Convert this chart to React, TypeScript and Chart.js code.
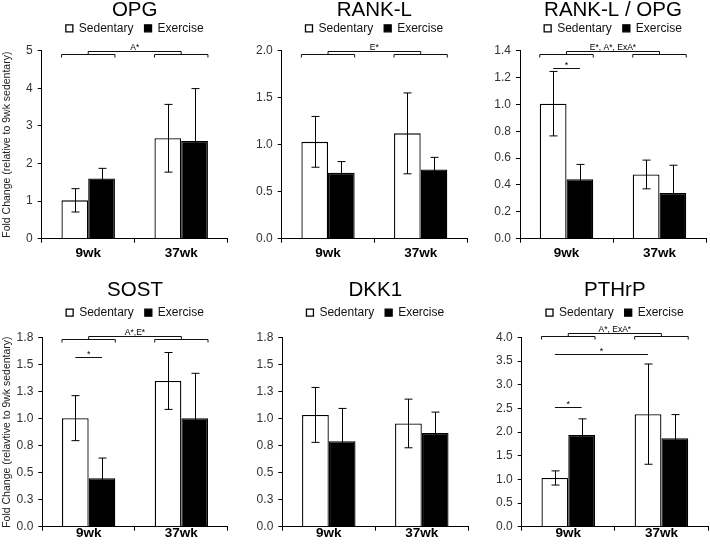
import React, { useEffect, useRef } from "react";
import { Chart, registerables } from "chart.js";

Chart.register(...registerables);
Chart.defaults.font.family = "'Liberation Sans', Arial, sans-serif";

// ---------- data ----------
const categories = ["9wk", "37wk"];
const seriesNames = ["Sedentary", "Exercise"];

const opgSed = [1.02, 2.67];
const opgSedErr = [0.31, 0.9];
const opgEx = [1.6, 2.6];
const opgExErr = [0.27, 1.39];
const opgTicks = ["0", "1", "2", "3", "4", "5"];

const ranklSed = [1.03, 1.12];
const ranklSedErr = [0.27, 0.43];
const ranklEx = [0.7, 0.735];
const ranklExErr = [0.12, 0.13];
const ranklTicks = ["0.0", "0.5", "1.0", "1.5", "2.0"];

const ratioSed = [1.005, 0.478];
const ratioSedErr = [0.24, 0.107];
const ratioEx = [0.443, 0.341];
const ratioExErr = [0.11, 0.206];
const ratioTicks = ["0.0", "0.2", "0.4", "0.6", "0.8", "1.0", "1.2", "1.4"];

const sostSed = [1.004, 1.348];
const sostSedErr = [0.208, 0.263];
const sostEx = [0.449, 1.004];
const sostExErr = [0.186, 0.415];
const sostTicks = ["0.0", "0.3", "0.5", "0.8", "1.0", "1.3", "1.5", "1.8"];

const dkkSed = [1.034, 0.955];
const dkkSedErr = [0.254, 0.225];
const dkkEx = [0.79, 0.867];
const dkkExErr = [0.304, 0.193];
const dkkTicks = ["0.0", "0.3", "0.5", "0.8", "1.0", "1.3", "1.5", "1.8"];

const pthSed = [1.03, 2.38];
const pthSedErr = [0.15, 1.06];
const pthEx = [1.94, 1.87];
const pthExErr = [0.34, 0.5];
const pthTicks = ["0.0", "0.5", "1.0", "1.5", "2.0", "2.5", "3.0", "3.5", "4.0"];

const yTitleTop = "Fold Change (relative to 9wk sedentary)";
const yTitleBottom = "Fold Change (relavtive to 9wk sedentary)";

// star lines: [datasetA, catA, datasetB, catB, value]
const ratioStars = [[0, 0, 1, 0, 1.273]];
const sostStars = [[0, 0, 1, 0, 1.57]];
const pthStars = [
  [0, 0, 1, 0, 2.53],
  [0, 0, 0, 1, 3.65],
];

// ---------- panels ----------
const FONT = "'Liberation Sans', Arial, sans-serif";

const rows = [
  { top: 0, h: 270, tPadTop: -0.25, tPadBot: -8.95, spacer: 6.3, xH: 31.3, xPad: 2.2 },
  { top: 270, h: 277, tPadTop: 10.05, tPadBot: -4.85, spacer: 8.8, xH: 20.3, xPad: -5.8 },
];

const panels = [
  { row: 0, left: 0, w: 237, yw: 41.7, padR: 9.3, title: "OPG", sed: opgSed, sedErr: opgSedErr, ex: opgEx, exErr: opgExErr, ticks: opgTicks, max: 5, step: 1, yTitle: yTitleTop, bracket: "A*", brk: 0.3, stars: [] },
  { row: 0, left: 237, w: 233, yw: 44.7, padR: 3, title: "RANK-L", sed: ranklSed, sedErr: ranklSedErr, ex: ranklEx, exErr: ranklExErr, ticks: ranklTicks, max: 2, step: 0.5, yTitle: null, bracket: "E*", brk: 0.3, stars: [] },
  { row: 0, left: 470, w: 240, yw: 50, padR: 4, title: "RANK-L / OPG", sed: ratioSed, sedErr: ratioSedErr, ex: ratioEx, exErr: ratioExErr, ticks: ratioTicks, max: 1.4, step: 0.2, yTitle: null, bracket: "E*, A*, ExA*", brk: 0.3, stars: ratioStars },
  { row: 1, left: 0, w: 237, yw: 42.3, padR: 9.3, title: "SOST", sed: sostSed, sedErr: sostSedErr, ex: sostEx, exErr: sostExErr, ticks: sostTicks, max: 1.75, step: 0.25, yTitle: yTitleBottom, bracket: "A*,E*", brk: -2, stars: sostStars },
  { row: 1, left: 237, w: 233, yw: 45.3, padR: 1.7, title: "DKK1", sed: dkkSed, sedErr: dkkSedErr, ex: dkkEx, exErr: dkkExErr, ticks: dkkTicks, max: 1.75, step: 0.25, yTitle: null, bracket: null, brk: 0, stars: [] },
  { row: 1, left: 470, w: 240, yw: 51.7, padR: 2, title: "PTHrP", sed: pthSed, sedErr: pthSedErr, ex: pthEx, exErr: pthExErr, ticks: pthTicks, max: 4, step: 0.5, yTitle: null, bracket: "A*, ExA*", brk: -5, stars: pthStars },
];

const errorBarPlugin = {
  id: "errorBars",
  afterDatasetsDraw(chart: any) {
    const ctx = chart.ctx;
    const y = chart.scales.y;
    ctx.save();
    ctx.strokeStyle = "#000";
    ctx.lineWidth = 1;
    chart.data.datasets.forEach((ds: any, di: number) => {
      const meta = chart.getDatasetMeta(di);
      meta.data.forEach((bar: any, i: number) => {
        const v = ds.data[i];
        const e = ds.errors[i];
        const x = Math.round(bar.x) + 0.5;
        const yt = y.getPixelForValue(v + e);
        const yb = y.getPixelForValue(v - e);
        ctx.beginPath();
        ctx.moveTo(x, yt);
        ctx.lineTo(x, yb);
        ctx.moveTo(x - 4, yt);
        ctx.lineTo(x + 4, yt);
        ctx.moveTo(x - 4, yb);
        ctx.lineTo(x + 4, yb);
        ctx.stroke();
      });
    });
    ctx.restore();
  },
};

function makeBracketPlugin(p: any) {
  return {
    id: "brackets",
    afterDraw(chart: any) {
      const ctx = chart.ctx;
      const yS = chart.scales.y;
      const m0 = chart.getDatasetMeta(0);
      const m1 = chart.getDatasetMeta(1);
      ctx.save();
      ctx.strokeStyle = "#111";
      ctx.fillStyle = "#000";
      ctx.lineWidth = 1;
      if (p.bracket) {
        const t = Math.round(chart.chartArea.top + p.brk) + 0.5;
        const centers: number[] = [];
        for (let i = 0; i < categories.length; i++) {
          const a = m0.data[i];
          const b = m1.data[i];
          const l = a.x - a.width / 2;
          const r = b.x + b.width / 2;
          centers.push((l + r) / 2);
          ctx.beginPath();
          ctx.moveTo(l, t + 6);
          ctx.lineTo(l, t + 3);
          ctx.lineTo(r, t + 3);
          ctx.lineTo(r, t + 6);
          ctx.stroke();
        }
        ctx.beginPath();
        ctx.moveTo(centers[0], t + 3);
        ctx.lineTo(centers[0], t);
        ctx.lineTo(centers[1], t);
        ctx.lineTo(centers[1], t + 3);
        ctx.stroke();
        ctx.font = "8.5px " + FONT;
        ctx.textAlign = "center";
        ctx.textBaseline = "alphabetic";
        ctx.fillText(p.bracket, (centers[0] + centers[1]) / 2, t - 1.5);
      }
      p.stars.forEach((s: number[]) => {
        const a = chart.getDatasetMeta(s[0]).data[s[1]];
        const b = chart.getDatasetMeta(s[2]).data[s[3]];
        const yy = Math.round(yS.getPixelForValue(s[4])) + 0.5;
        ctx.beginPath();
        ctx.moveTo(a.x, yy);
        ctx.lineTo(b.x, yy);
        ctx.stroke();
        ctx.font = "9px " + FONT;
        ctx.textAlign = "center";
        ctx.textBaseline = "alphabetic";
        ctx.fillText("*", (a.x + b.x) / 2, yy - 0.5);
      });
      ctx.restore();
    },
  };
}

function Panel({ p }: { p: any }) {
  const ref = useRef<HTMLCanvasElement | null>(null);
  const row = rows[p.row];
  useEffect(() => {
    if (!ref.current) return;
    const chart = new Chart(ref.current, {
      type: "bar",
      data: {
        labels: categories,
        datasets: [
          { label: seriesNames[0], data: p.sed, errors: p.sedErr, backgroundColor: "#fff", borderColor: "#000", borderWidth: 1.3 } as any,
          { label: seriesNames[1], data: p.ex, errors: p.exErr, backgroundColor: "#000", borderColor: "#000", borderWidth: 1.3 } as any,
        ],
      },
      options: {
        responsive: false,
        animation: false,
        events: [],
        layout: { padding: { top: 0, left: 0, right: p.padR, bottom: 0 } },
        datasets: { bar: { categoryPercentage: 0.575, barPercentage: 1 } },
        plugins: {
          tooltip: { enabled: false },
          title: {
            display: true,
            text: p.title,
            fullSize: false,
            color: "#000",
            font: { size: 20.5, weight: "normal", lineHeight: 1 },
            padding: { top: row.tPadTop, bottom: row.tPadBot },
          },
          legend: {
            display: true,
            position: "top",
            fullSize: false,
            labels: { boxWidth: 7, boxHeight: 7, padding: 11, color: "#111", font: { size: 12 } },
          },
          subtitle: {
            display: true,
            text: "",
            weight: 500,
            fullSize: false,
            padding: 0,
            font: { size: 1, lineHeight: row.spacer },
          },
        },
        scales: {
          x: {
            grid: { display: true, drawOnChartArea: false, drawTicks: true, tickLength: 4, color: "#000", offset: true },
            border: { display: true, color: "#000", width: 1 },
            ticks: { color: "#000", font: { size: 13.5, weight: "bold" }, padding: row.xPad, maxRotation: 0 },
            afterFit: (s: any) => { s.height = row.xH; },
          },
          y: {
            min: 0,
            max: p.max,
            grid: { display: true, drawOnChartArea: false, drawTicks: true, tickLength: 4, color: "#000" },
            border: { display: true, color: "#000", width: 1 },
            ticks: {
              stepSize: p.step,
              color: "#333",
              padding: 5,
              font: { size: 12 },
              callback: (v: any) => p.ticks[Math.round(Number(v) / p.step)],
            },
            title: p.yTitle
              ? { display: true, text: p.yTitle, color: "#222", font: { size: 10.5 }, padding: { top: 0.7, bottom: 0 } }
              : { display: false },
            afterFit: (s: any) => { s.width = p.yw; },
          },
        },
      } as any,
      plugins: [errorBarPlugin, makeBracketPlugin(p)],
    });
    return () => chart.destroy();
  }, []);
  return (
    <canvas
      ref={ref}
      width={p.w}
      height={row.h}
      style={{ position: "absolute", left: p.left, top: row.top, width: p.w, height: row.h }}
    />
  );
}

export default function App() {
  return (
    <div style={{ position: "fixed", left: 0, top: 0, width: 710, height: 547, background: "#fff", overflow: "hidden" }}>
      {panels.map((p, i) => (
        <Panel key={i} p={p} />
      ))}
    </div>
  );
}
